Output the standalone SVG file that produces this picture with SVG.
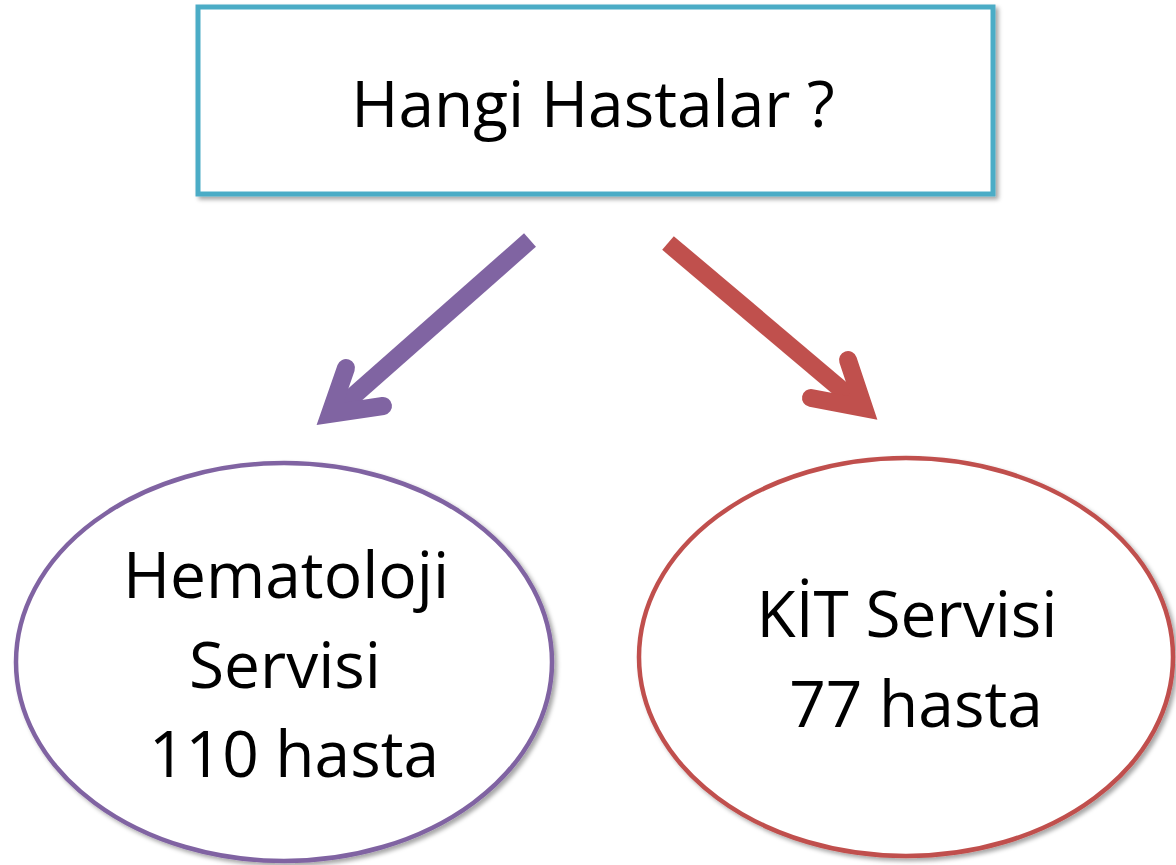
<svg xmlns="http://www.w3.org/2000/svg" width="1176" height="865" viewBox="0 0 1176 865">
<defs>
<filter id="sh" x="-5%" y="-5%" width="112%" height="115%">
<feDropShadow dx="3" dy="3" stdDeviation="2" flood-color="#000" flood-opacity="0.35"/>
</filter>
</defs>
<style>
.t{font-family:"Open Sans","Noto Sans",sans-serif;fill:#000;text-anchor:middle;}
.big{font-size:64px;}
</style>
<rect width="1176" height="865" fill="#fff"/>
<g id="top">
<rect x="198" y="7" width="795" height="187" fill="#fff" stroke="#4BACC6" stroke-width="5" filter="url(#sh)"/>
<text class="t big" x="593" y="127">Hangi Hastalar ?</text>
</g>
<g id="connectors" fill="none" stroke-linecap="round" stroke-linejoin="miter" stroke-miterlimit="10">
<line x1="530" y1="240" x2="334" y2="413" stroke="#8064A2" stroke-width="18" stroke-linecap="butt"/>
<polyline points="346,368 330,414 383,406" stroke="#8064A2" stroke-width="18"/>
<line x1="668" y1="243" x2="862" y2="407" stroke="#C0504D" stroke-width="18" stroke-linecap="butt"/>
<polyline points="848,360 864,408 811,398" stroke="#C0504D" stroke-width="18"/>
</g>
<g id="hematoloji">
<ellipse cx="284" cy="662" rx="268" ry="199" fill="#fff" stroke="#8064A2" stroke-width="4.5" filter="url(#sh)"/>
<text class="t big" x="286" y="598">Hematoloji</text>
<text class="t big" x="285" y="688">Servisi</text>
<text class="t big" x="294" y="777">110 hasta</text>
</g>
<g id="kit">
<ellipse cx="906" cy="657" rx="267" ry="199" fill="#fff" stroke="#C0504D" stroke-width="4.5" filter="url(#sh)"/>
<text class="t big" x="907" y="637">KİT Servisi</text>
<text class="t big" x="916" y="727">77 hasta</text>
</g>
</svg>
